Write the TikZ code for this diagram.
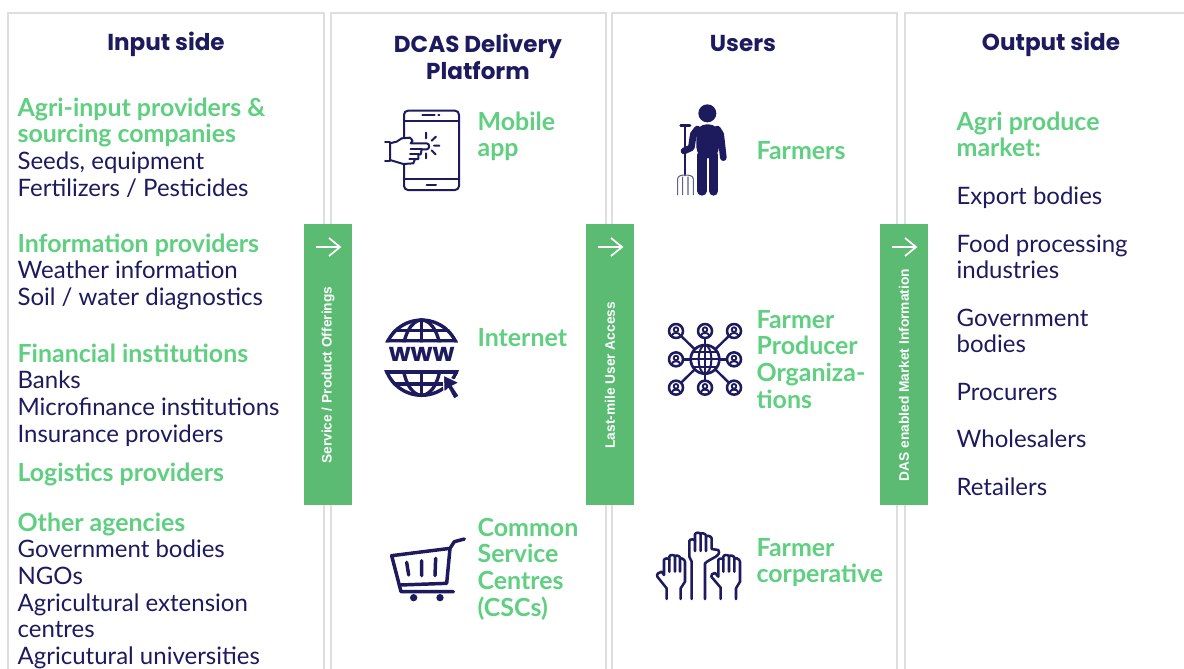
\documentclass[tikz,border=0pt]{standalone}
\usepackage{fontspec}
\setmainfont{Lato}
\newfontfamily\barfont{Liberation Sans}
\newfontfamily\hfont{Poppins}
\definecolor{navy}{HTML}{1D1A5E}
\definecolor{grn}{HTML}{5FCF80}
\definecolor{barg}{HTML}{5BBB73}
\definecolor{rulec}{HTML}{DEDEDE}
\newcommand{\gr}[1]{\textcolor{grn}{\fontsize{18.7}{20}\selectfont\bfseries #1}}
\newcommand{\lh}{\rule{0pt}{14pt}}
\tikzset{
 x=0.75pt,y=-0.75pt,
 colframe/.style={draw=rulec,line width=2.2pt},
 grp/.style={anchor=north west,inner sep=0pt,align=left,xshift=-0.5pt,yshift=8pt,text=navy,font=\fontsize{18}{20}\selectfont},
 head/.style={inner sep=0pt,align=center,text=navy,font=\hfont\fontsize{17.3}{20.5}\selectfont\bfseries},
 barbox/.style={fill=barg,draw=none,minimum width=36pt,minimum height=210.75pt,inner sep=0pt},
 barlab/.style={rotate=90,text=white,inner sep=0pt,xshift=1pt,font=\barfont\bfseries\fontsize{10.3}{11}\selectfont},
 barrow/.style={draw=white,line width=1.3pt},
 ic/.style={draw=navy,line width=1.5pt,line cap=round,line join=round},
}
\begin{document}
\begin{tikzpicture}
\useasboundingbox (0,0) rectangle (1184,668);
\fill[white] (0,0) rectangle (1184,668);
% column frames
\draw[colframe] (8,675)--(8,13)--(324,13)--(324,675);
\draw[colframe] (331,675)--(331,13)--(606,13)--(606,675);
\draw[colframe] (612,675)--(612,13)--(897,13)--(897,675);
\draw[colframe] (905,675)--(905,13)--(1195,13);
% headers
\node[head] (h1) at (166,44.5) {Input side};
\node[head] (h2) at (478,57) {DCAS Delivery\\Platform};
\node[head] (h3) at (743,43.5) {Users};
\node[head] (h4) at (1051,44.5) {Output side};
% input side
\node[grp] (g1) at (18,108) {\lh\gr{Agri-input providers \&}\\\gr{sourcing companies}\\Seeds, equipment\\Fertilizers / Pesticides};
\node[grp] (g2) at (18,244) {\lh\gr{Information providers}\\Weather information\\Soil / water diagnostics};
\node[grp] (g3) at (18,354) {\lh\gr{Financial institutions}\\Banks\\Microfinance institutions\\Insurance providers};
\node[grp] (g4) at (18,473) {\lh\gr{Logistics providers}};
\node[grp] (g5) at (18,523) {\lh\gr{Other agencies}\\Government bodies\\NGOs\\Agricultural extension\\centres\\Agricutural universities};
% platform
\node[grp] (p1) at (478,122) {\lh\gr{Mobile}\\\gr{app}};
\node[grp] (p2) at (478,338) {\lh\gr{Internet}};
\node[grp] (p3) at (478,528) {\lh\gr{Common}\\\gr{Service}\\\gr{Centres}\\\gr{(CSCs)}};
% users
\node[grp] (u1) at (757,151) {\lh\gr{Farmers}};
\node[grp] (u2) at (757,320) {\lh\gr{Farmer}\\\gr{Producer}\\\gr{Organiza-}\\\gr{tions}};
\node[grp] (u3) at (757,548) {\lh\gr{Farmer}\\\gr{corperative}};
% output side
\node[grp] (o1) at (957,122) {\lh\gr{Agri produce}\\\gr{market:}};
\node[grp] (o2) at (957,196) {\lh Export bodies};
\node[grp] (o3) at (957,244) {\lh Food processing\\industries};
\node[grp] (o4) at (957,318) {\lh Government\\bodies};
\node[grp] (o5) at (957,392) {\lh Procurers};
\node[grp] (o6) at (957,439) {\lh Wholesalers};
\node[grp] (o7) at (957,487) {\lh Retailers};
% bars
\node[barbox] (b1) at (328,364.5) {};
\node[barbox] (b2) at (610,364.5) {};
\node[barbox] (b3) at (904,364.5) {};
\node[barlab] (l1) at (328,376.5) {Service / Product Offerings};
\node[barlab] (l2) at (610,376.5) {Last-mile User Access};
\node[barlab] (l3) at (904,376.5) {DAS enabled Market Information};
\foreach \bx in {328,610,904}{
 \draw[barrow] (\bx-12,247)--(\bx+12,247) (\bx+1,238)--(\bx+12,247)--(\bx+1,256);
}
% mobile icon
\begin{scope}[shift={(370,90)},scale=1/3]
 \draw[ic,rounded corners=3pt] (102,62) rectangle (267,300);
 \draw[ic] (102,92)--(267,92) (102,268)--(267,268);
 \draw[ic] (157,74)--(194,74) (205,74)--(208,74) (170,285)--(198,285);
 \draw[ic] (168,128)--(168,145) (198,140)--(185,152) (192,167)--(208,167) (197,193)--(185,181) (168,190)--(168,205);
 \draw[ic,fill=white] (60,160)--(80,155)--(95,145)--(120,143)--(128,152)--(122,160)--(170,160)
   to[out=0,in=0,looseness=1.4] (170,178)--(155,178)--(152,193)--(145,193)--(145,207)--(135,207)--(130,220)--(100,222)--(60,210)--cycle;
 \draw[ic] (122,178)--(155,178) (120,193)--(145,193) (118,207)--(135,207);
 \draw[ic] (45,157)--(60,157)--(60,213)--(45,213);
\end{scope}
% www icon
\begin{scope}[shift={(370,310)},scale=1/3]
 \begin{scope}
  \clip (155,143) circle (118);
  \clip (0,0) rectangle (330,97) (0,180) rectangle (330,300);
  \draw[navy,line width=2.7pt] (155,143) circle (113);
  \draw[navy,line width=2.5pt] (155,143) ellipse (58 and 113);
  \draw[navy,line width=2.5pt] (155,20)--(155,270) (40,62)--(270,62) (40,222)--(270,222);
  \draw[navy,line width=3pt] (30,92)--(280,92) (30,185)--(280,185);
 \end{scope}
 \node[inner sep=0pt,text=navy,font=\hfont\fontsize{19}{20}\selectfont\bfseries] (www) at (155,134) {www};
 \draw[fill=navy,draw=white,line width=0.9pt,line join=round] (220,195)--(268,218)--(248,228)--(268,258)--(252,268)--(235,236)--(222,248)--cycle;
\end{scope}
% cart icon
\begin{scope}[shift={(375,525)},scale=1/3]
 \draw[ic,line width=2.6pt] (268,42)--(238,50)--(225,70)--(50,92)--(78,200)--(235,200);
 \draw[ic,line width=2.6pt] (225,70)--(215,175)--(76,180);
 \draw[ic,line width=2.6pt] (95,112)--(101,150) (140,107)--(140,152) (182,100)--(180,152);
 \fill[navy] (116,218) circle (11) (195,218) circle (11);
\end{scope}
% farmer icon
\begin{scope}[shift={(660,95)},scale=1/3]
 \fill[navy] (142,55) circle (27);
 \fill[navy,rounded corners=8pt] (108,88)--(178,88)--(176,190)--(110,190)--cycle;
 \draw[navy,line width=7pt,line cap=round] (126,180)--(126,288) (161,180)--(161,288);
 \draw[navy,line width=5pt,line cap=round,line join=round] (112,102)--(100,118)--(94,158)--(72,168);
 \draw[navy,line width=5pt,line cap=round,line join=round] (172,102)--(182,118)--(190,188);
 \draw[navy,line width=2pt,line cap=round] (62,92)--(90,92) (75,92)--(75,240);
 \draw[navy!70,line width=0.8pt] (53,300)--(53,252) to[out=90,in=180] (75,240) to[out=0,in=90] (100,252)--(100,300) (68,300)--(68,245) (84,300)--(84,245);
\end{scope}
% network icon
\begin{scope}[shift={(660,315)},scale=1/3]
 \foreach \px/\py in {48/48,135/48,222/48,48/133,222/133,48/218,135/218,222/218}{
  \draw[ic,line width=1.8pt] (135,133)--(\px,\py);
 }
 \foreach \px/\py in {48/48,135/48,222/48,48/133,222/133,48/218,135/218,222/218}{
  \draw[ic,fill=white,line width=1.9pt] (\px,\py) circle (21);
  \draw[ic,line width=1.4pt] (\px,\py-4) circle (7);
  \draw[ic,line width=1.4pt] (\px-12,\py+13) to[out=90,in=180] (\px,\py+6) to[out=0,in=90] (\px+12,\py+13);
 }
 \draw[ic,fill=white,line width=2pt] (135,133) circle (43);
 \draw[ic,line width=1.5pt] (135,133) ellipse (19 and 43);
 \draw[ic,line width=1.5pt] (135,90)--(135,176) (92,133)--(178,133) (100,110)--(170,110) (100,156)--(170,156);
\end{scope}
% hands icon
\begin{scope}[shift={(650,525)},scale=1/3]
 \begin{scope}[ic,line width=1.9pt]
  \draw (125,222)--(125,110)--(118,95)--(118,48) to[out=90,in=90] (135,48)--(135,78);
  \draw (135,48)--(135,28) to[out=90,in=90] (152,28)--(152,78);
  \draw (152,28) to[out=90,in=90] (168,32)--(168,78);
  \draw (168,36) to[out=90,in=90] (185,40)--(185,72)--(205,75) to[out=-60,in=45] (165,115)--(165,222);
  \draw (50,222)--(50,190)--(22,155) to[out=120,in=180] (35,140)--(42,150)--(42,105) to[out=90,in=90] (58,105)--(58,140);
  \draw (58,105)--(58,95) to[out=90,in=90] (75,95)--(75,140);
  \draw (75,95) to[out=90,in=90] (90,98)--(90,140);
  \draw (90,102) to[out=90,in=90] (105,110)--(105,170)--(92,190)--(92,222);
  \draw (212,222)--(212,188)--(184,155) to[out=120,in=180] (195,144)--(205,155)--(205,105) to[out=90,in=90] (220,105)--(220,140);
  \draw (220,105)--(220,95) to[out=90,in=90] (237,95)--(237,140);
  \draw (237,95) to[out=90,in=90] (253,98)--(253,140);
  \draw (253,102) to[out=90,in=90] (270,110)--(270,170)--(258,190)--(258,222);
 \end{scope}
\end{scope}
\end{tikzpicture}
\end{document}
